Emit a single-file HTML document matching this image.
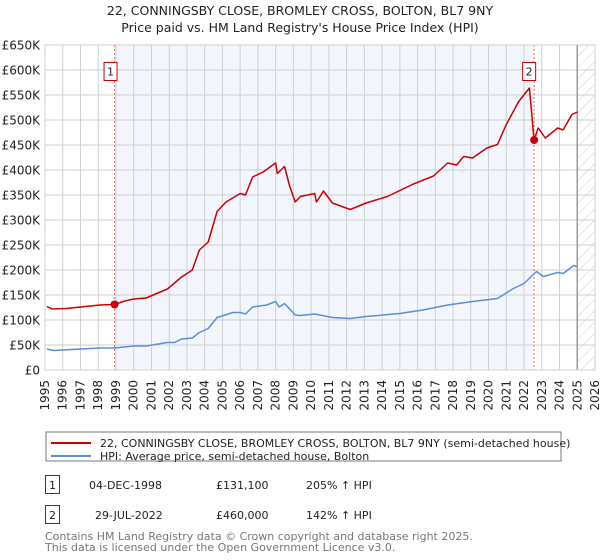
<!DOCTYPE html>
<html><head><meta charset="utf-8"><style>
body{margin:0;background:#fff;width:600px;height:560px;overflow:hidden;font-family:"DejaVu Sans","Liberation Sans",sans-serif;position:relative;}
svg{display:block}
.xl{position:absolute;top:380px;font-size:12px;line-height:14px;width:14px;white-space:nowrap;color:#222;writing-mode:sideways-lr;}
</style></head><body>
<svg id="chart" width="600" height="560" xmlns="http://www.w3.org/2000/svg">
<defs>
<pattern id="hatch" patternUnits="userSpaceOnUse" width="8" height="8" patternTransform="rotate(45)">
<line x1="0" y1="0" x2="0" y2="8" stroke="#ccc" stroke-width="1"/>
</pattern>
</defs>
<text x="300" y="15" text-anchor="middle" font-size="12.5" fill="#222">22, CONNINGSBY CLOSE, BROMLEY CROSS, BOLTON, BL7 9NY</text>
<text x="300" y="32" text-anchor="middle" font-size="12.5" fill="#222">Price paid vs. HM Land Registry's House Price Index (HPI)</text>
<g id="plot"></g>
<g>
<rect x="46" y="432" width="515" height="29" fill="#fff" stroke="#777" stroke-width="1"/>
<line x1="51" y1="443" x2="91" y2="443" stroke="#cc0000" stroke-width="2"/>
<text x="100" y="447" font-size="11" fill="#222">22, CONNINGSBY CLOSE, BROMLEY CROSS, BOLTON, BL7 9NY (semi-detached house)</text>
<line x1="51" y1="456" x2="91" y2="456" stroke="#5b8fd4" stroke-width="2"/>
<text x="100" y="460" font-size="11" fill="#222">HPI: Average price, semi-detached house, Bolton</text>
</g>
<g>
<rect x="45.5" y="475.5" width="14" height="18" fill="#fff" stroke="#cc0000"/>
<text x="52.5" y="489" text-anchor="middle" font-size="11" fill="#222">1</text>
<text x="89" y="489" font-size="11" fill="#222">04-DEC-1998</text>
<text x="216" y="489" font-size="11" fill="#222">£131,100</text>
<text x="306" y="489" font-size="11" fill="#222">205% ↑ HPI</text>
<rect x="45.5" y="505.5" width="14" height="18" fill="#fff" stroke="#cc0000"/>
<text x="52.5" y="519" text-anchor="middle" font-size="11" fill="#222">2</text>
<text x="95" y="519" font-size="11" fill="#222">29-JUL-2022</text>
<text x="216" y="519" font-size="11" fill="#222">£460,000</text>
<text x="306" y="519" font-size="11" fill="#222">142% ↑ HPI</text>
</g>
<text x="45" y="540" font-size="11" fill="#777">Contains HM Land Registry data © Crown copyright and database right 2025.</text>
<text x="45" y="551" font-size="11" fill="#777">This data is licensed under the Open Government Licence v3.0.</text>
</svg>
<div id="xlabels"></div>
<script>
const yTicks=[0,50,100,150,200,250,300,350,400,450,500,550,600,650];
const yTickLabels=["£0","£50K","£100K","£150K","£200K","£250K","£300K","£350K","£400K","£450K","£500K","£550K","£600K","£650K"];
const xYears=[1995,1996,1997,1998,1999,2000,2001,2002,2003,2004,2005,2006,2007,2008,2009,2010,2011,2012,2013,2014,2015,2016,2017,2018,2019,2020,2021,2022,2023,2024,2025,2026];
const propT=[1995.1,1995.4,1996.2,1997.0,1998.1,1998.92,1999.5,2000.0,2000.7,2001.1,2001.9,2002.7,2003.3,2003.7,2004.2,2004.7,2005.2,2006.0,2006.3,2006.7,2007.3,2008.0,2008.1,2008.5,2008.8,2009.1,2009.4,2010.2,2010.3,2010.7,2011.2,2012.2,2013.1,2014.3,2015.7,2016.9,2017.7,2018.2,2018.6,2019.1,2019.9,2020.5,2021.0,2021.7,2022.3,2022.57,2022.8,2023.2,2023.9,2024.2,2024.7,2025.0];
const propV=[127,122,123,126,130,131,138,142,144,150,162,186,200,240,256,317,336,353,350,386,396,414,393,407,367,336,347,353,336,358,334,321,334,347,371,388,414,410,427,424,444,451,491,537,564,460,484,464,484,480,511,516];
const hpiT=[1995.1,1995.5,1996.5,1998.1,1998.92,2000.0,2000.7,2001.9,2002.3,2002.7,2003.3,2003.7,2004.2,2004.7,2005.6,2006.0,2006.3,2006.7,2007.5,2008.0,2008.2,2008.5,2009.1,2009.4,2010.2,2011.2,2012.2,2013.1,2015.0,2016.3,2017.7,2019.1,2020.5,2021.4,2022.0,2022.7,2023.1,2023.9,2024.2,2024.8,2025.0];
const hpiV=[42,39,41,44,44,48,48,55,55,62,64,75,83,105,115,115,112,126,130,137,126,133,110,109,112,105,103,107,113,120,130,137,143,163,173,197,187,195,193,209,207];
const saleT=[1998.92,2022.57];
const saleV=[131.1,460];
const saleLabels=["1","2"];

const NS="http://www.w3.org/2000/svg";
const L=45,R=595,T=45,B=370;
const xs=t=>L+(t-1995)*(R-L)/31;
const ys=v=>B-v*(B-T)/650;
const g=document.getElementById('plot');
function mk(tag,attrs,parent){const e=document.createElementNS(NS,tag);for(const k in attrs)e.setAttribute(k,attrs[k]);(parent||g).appendChild(e);return e;}

let r=mk('rect',{x:L,y:T,width:R-L,height:B-T,fill:'#fff'});


let sh=mk('rect',{x:xs(saleT[0]),y:T,width:xs(saleT[1])-xs(saleT[0]),height:B-T,fill:'#f3f6fd'});


let ht=mk('rect',{x:xs(2025.0),y:T,width:R-xs(2025.0),height:B-T,fill:'url(#hatch)'});


yTicks.forEach((v,i)=>{
  let ln=mk('line',{x1:L,x2:R,y1:ys(v),y2:ys(v),stroke:'#cfcfcf','stroke-width':1});
  
  
  let tx=mk('text',{x:40,y:ys(v)+4.5,'text-anchor':'end','font-size':12,fill:'#222'});
  tx.textContent=yTickLabels[i];
  
  
});
const xl=document.getElementById('xlabels');
xYears.forEach(yr=>{
  let ln=mk('line',{x1:xs(yr),x2:xs(yr),y1:T,y2:B,stroke:'#cfcfcf','stroke-width':1});
  
  
  let d=document.createElement('div');
  d.className='xl';
  d.style.left=(xs(yr)-7)+'px';
  d.textContent=yr;
  
  
  xl.appendChild(d);
});
let vl=mk('line',{x1:xs(2025.0),x2:xs(2025.0),y1:T,y2:B,stroke:'#999','stroke-width':1.5});


saleT.forEach((t,i)=>{
  let ln=mk('line',{x1:xs(t),x2:xs(t),y1:T,y2:B,stroke:'#f07070','stroke-width':1,'stroke-dasharray':'2,2'});
  
  
});
function path(T_,V_,color,name){
  const d=T_.map((t,i)=>(i?'L':'M')+xs(t).toFixed(1)+','+ys(V_[i]).toFixed(1)).join(' ');
  let p=mk('path',{d:d,fill:'none',stroke:color,'stroke-width':1.5,'stroke-linejoin':'round'});
  
  
}
path(hpiT,hpiV,'#5b8fd4','hpi-line');
path(propT,propV,'#cc0000','property-price-line');
saleT.forEach((t,i)=>{
  let c=mk('circle',{cx:xs(t),cy:ys(saleV[i]),r:4,fill:'#cc0000'});
  
  
  const bx=xs(t)-10-(i?1:0);
  let b=mk('rect',{x:bx-0.5,y:62.5,width:13,height:18,fill:'#fff',stroke:'#cc0000'});
  
  
  let tx=mk('text',{x:bx+6,y:75.5,'text-anchor':'middle','font-size':11,fill:'#222'});
  tx.textContent=saleLabels[i];
  
  
});
let fr=mk('rect',{x:L,y:T,width:R-L,height:B-T,fill:'none',stroke:'#cfcfcf'});


</script>
</body></html>
